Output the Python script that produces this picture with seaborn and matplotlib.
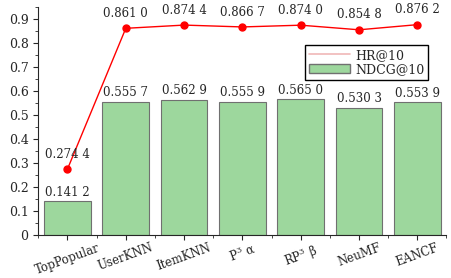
import numpy as np
import pandas as pd
import matplotlib
matplotlib.use("Agg")
import matplotlib.pyplot as plt
import seaborn as sns
from matplotlib.lines import Line2D
from matplotlib.patches import Patch
from matplotlib.ticker import MultipleLocator

# Data
models = ['TopPopular', 'UserKNN', 'ItemKNN', r'P$^3$ α', r'RP$^3$ β', 'NeuMF', 'EANCF']
hr10 = [0.2744, 0.8610, 0.8744, 0.8667, 0.8740, 0.8548, 0.8762]
ndcg10 = [0.1412, 0.5557, 0.5629, 0.5559, 0.5650, 0.5303, 0.5539]

def fmt(v):
    s = f"{v:.4f}"
    return s[:-1] + " " + s[-1]

sns.set_style("ticks")
plt.rcParams['font.family'] = ['DejaVu Serif']
plt.rcParams['mathtext.fontset'] = 'dejavuserif'

df = pd.DataFrame({'model': models, 'HR@10': hr10, 'NDCG@10': ndcg10})

fig, ax = plt.subplots(figsize=(4.51, 2.78), dpi=100)
sns.barplot(data=df, x='model', y='NDCG@10', color='#9dd79d', saturation=1,
            edgecolor='#707070', linewidth=0.8, width=0.8, ax=ax)
ax.plot(range(len(models)), hr10, color='red', marker='o', markersize=5, linewidth=1)

for i, (h, n) in enumerate(zip(hr10, ndcg10)):
    ax.text(i, h + 0.035, fmt(h), ha='center', va='bottom', fontsize=8.5)
    ax.text(i, n + 0.01, fmt(n), ha='center', va='bottom', fontsize=8.5)

ax.set_xlim(-0.5, 6.5)
ax.set_ylim(0, 0.95)
ax.yaxis.set_minor_locator(MultipleLocator(0.05))
ax.set_yticks(np.arange(0, 0.95, 0.1))
ax.set_yticklabels(['0'] + [f"{v:.1f}" for v in np.arange(0.1, 0.95, 0.1)])
ax.set_xticks(np.arange(7))
ax.set_xticks(np.arange(-0.5, 7, 0.5), minor=True)
ax.set_xticklabels(models, rotation=20, fontsize=8.5)
ax.tick_params(axis='x', pad=1)
ax.tick_params(axis='y', labelsize=9)
ax.set_xlabel('')
ax.set_ylabel('')
sns.despine(ax=ax)

handles = [Line2D([0], [0], color='#f0b8b8', lw=1.2),
           Patch(facecolor='#9dd79d', edgecolor='#707070')]
leg = ax.legend(handles, ['HR@10', 'NDCG@10'], loc='upper right',
                bbox_to_anchor=(0.97, 0.86), fontsize=9, fancybox=False,
                edgecolor='black', framealpha=1, handlelength=3.3,
                borderpad=0.3, labelspacing=0.1, handletextpad=0.4)
leg.get_frame().set_linewidth(1)

plt.subplots_adjust(left=0.085, right=0.99, top=0.975, bottom=0.155)
plt.savefig('out.png', dpi=100)
